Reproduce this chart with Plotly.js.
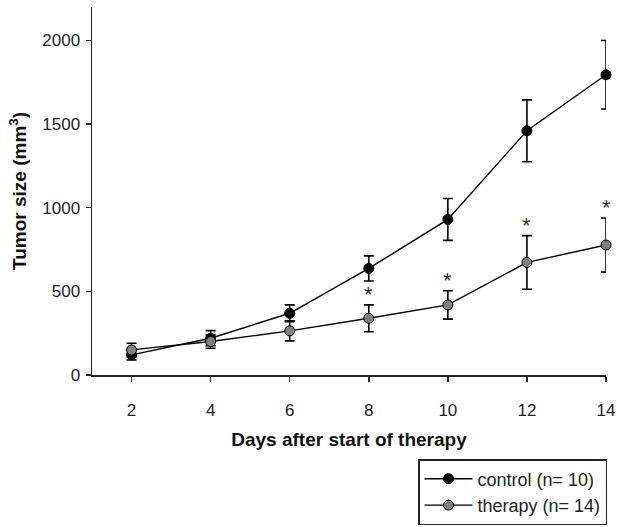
<!DOCTYPE html>
<html>
<head>
<meta charset="utf-8">
<script src="https://cdn.plot.ly/plotly-3.0.1.min.js"></script>
<style>html,body{margin:0;padding:0;background:#fff;}#chart{width:617px;height:527px;}</style>
</head>
<body>
<div id="chart"></div>
<script>
var days = [2, 4, 6, 8, 10, 12, 14];
var controlMean = [120, 220, 369, 637, 930, 1460, 1795];
var controlErr = [30, 45, 50, 75, 125, 185, 205];
var therapyMean = [150, 200, 264, 339, 419, 673, 777];
var therapyErr = [40, 40, 60, 80, 85, 160, 162];
var significant = [false, false, false, true, true, true, true];
var seriesNames = ['control (n= 10)', 'therapy (n= 14)'];
var yTicks = [0, 500, 1000, 1500, 2000];

var fontFam = '"Liberation Sans", Arial, sans-serif';

var traces = [
  {
    x: days, y: controlMean, name: seriesNames[0], type: 'scatter', mode: 'lines+markers',
    line: {color: '#000', width: 1.4},
    marker: {symbol: 'circle', size: 10, color: '#000', line: {color: '#000', width: 1}},
    error_y: {type: 'data', array: controlErr, visible: true, color: '#000', thickness: 1.6, width: 5},
    cliponaxis: false
  },
  {
    x: days, y: therapyMean, name: seriesNames[1], type: 'scatter', mode: 'lines+markers',
    line: {color: '#000', width: 1.4},
    marker: {symbol: 'circle', size: 10, color: '#808080', line: {color: '#000', width: 1}},
    error_y: {type: 'data', array: therapyErr, visible: true, color: '#000', thickness: 1.6, width: 5},
    cliponaxis: false
  }
];

var annotations = [];
for (var i = 0; i < days.length; i++) {
  if (significant[i]) {
    annotations.push({
      x: days[i], y: therapyMean[i] + therapyErr[i], xref: 'x', yref: 'y',
      text: '*', showarrow: false, yanchor: 'bottom', yshift: -4,
      font: {family: fontFam, size: 22, color: '#333'}
    });
  }
}

var layout = {
  width: 617, height: 527,
  margin: {l: 92, r: 11, t: 7, b: 152},
  paper_bgcolor: '#fff', plot_bgcolor: '#fff',
  font: {family: fontFam, color: '#222', size: 16},
  showlegend: true,
  legend: {
    xref: 'paper', yref: 'container',
    x: (418 - 92) / 514, y: 1 - 525 / 527, xanchor: 'left', yanchor: 'bottom',
    bordercolor: '#222', borderwidth: 1.5, bgcolor: '#fff',
    font: {family: fontFam, size: 18, color: '#222'},
    tracegroupgap: 0, itemwidth: 48
  },
  xaxis: {
    range: [1, 14], tickvals: days, ticktext: days.map(String),
    showline: true, linecolor: '#222', linewidth: 1.5, mirror: false,
    ticks: 'outside', ticklen: 5, tickwidth: 1.5, tickcolor: '#222',
    ticklabelstandoff: 14,
    showgrid: false, zeroline: false,
    tickfont: {family: fontFam, size: 17, color: '#222'},
    title: {text: 'Days after start of therapy', standoff: 14, font: {family: fontFam, size: 19, color: '#111', weight: 'bold'}},
    automargin: false
  },
  yaxis: {
    range: [0, 2200], tickvals: yTicks, ticktext: yTicks.map(String),
    showline: true, linecolor: '#222', linewidth: 1.5,
    ticks: 'outside', ticklen: 5, tickwidth: 1.5, tickcolor: '#222',
    ticklabelstandoff: 2,
    showgrid: false, zeroline: false,
    tickfont: {family: fontFam, size: 17, color: '#222'},
    title: {text: 'Tumor size (mm<sup>3</sup>)', standoff: 10, font: {family: fontFam, size: 19, color: '#111', weight: 'bold'}},
    automargin: false
  },
  annotations: annotations
};

Plotly.newPlot('chart', traces, layout, {displayModeBar: false, staticPlot: true});
</script>
</body>
</html>
